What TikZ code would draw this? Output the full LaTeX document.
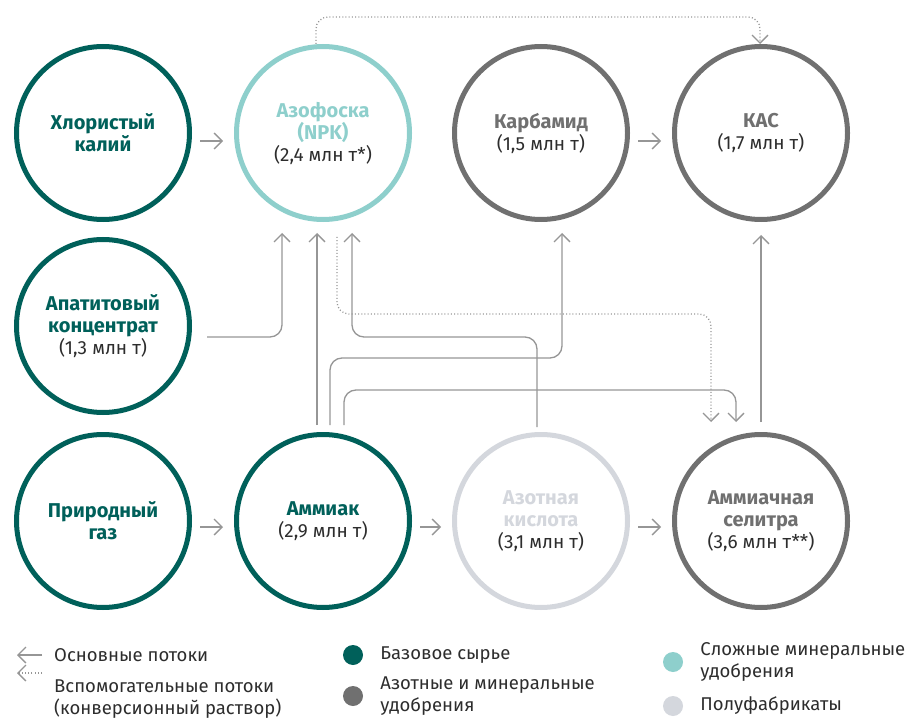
\documentclass[tikz,border=0pt]{standalone}
\usepackage{fontspec}
\setmainfont{Fira Sans}
\usetikzlibrary{arrows.meta, positioning, calc}

\definecolor{basecol}{RGB}{0,96,90}
\definecolor{complexcol}{RGB}{142,207,204}
\definecolor{nitrocol}{RGB}{112,112,112}
\definecolor{semicol}{RGB}{212,215,221}
\definecolor{flowcol}{RGB}{150,150,150}
\definecolor{txtcol}{RGB}{45,45,45}

\newcommand{\ttl}[2]{{\color{#1}\fontsize{20}{22}\selectfont\bfseries #2}}
\newcommand{\amt}[1]{{\color{txtcol}\fontsize{19}{22}\selectfont #1}}

\begin{document}
\begin{tikzpicture}[
    x=1pt, y=-1pt,
    stock/.style={circle, draw, line width=5pt, minimum size=173pt, inner sep=0pt, align=center, font=\fontsize{19}{22}\selectfont},
    flow/.style={draw=flowcol, line width=1.3pt, -{Straight Barb[length=8pt,width=16pt]}},
    aux/.style={flow, dash pattern=on 1pt off 2.2pt},
    link/.style={flow, rounded corners=12pt},
    gap/.style={flow, shorten <=8pt, shorten >=11pt},
    dot/.style={circle, inner sep=0pt, minimum size=20pt},
    legend/.style={anchor=west, align=left, inner sep=0pt, text=txtcol, font=\fontsize{18.5}{22}\selectfont}
    ]
    \useasboundingbox (0,0) rectangle (907,719);

    % Top row
    \node[stock, draw=basecol] (kcl) at (103,133) {\ttl{basecol}{Хлористый}\\\ttl{basecol}{калий}};
    \node[stock, draw=complexcol] (azo) at (323,133) {\ttl{complexcol}{Азофоска}\\\ttl{complexcol}{(NPK)}\\\amt{(2,4 млн т*)}};
    \node[stock, draw=nitrocol] (karb) at (541,133) {\ttl{nitrocol}{Карбамид}\\\amt{(1,5 млн т)}};
    \node[stock, draw=nitrocol] (kas) at (761,133) {\ttl{nitrocol}{КАС}\\\amt{(1,7 млн т)}};

    % Middle row
    \node[stock, draw=basecol] (apat) at (103,326) {\ttl{basecol}{Апатитовый}\\\ttl{basecol}{концентрат}\\\amt{(1,3 млн т)}};

    % Bottom row
    \node[stock, draw=basecol] (gas) at (103,521) {\ttl{basecol}{Природный}\\\ttl{basecol}{газ}};
    \node[stock, draw=basecol] (amm) at (323,521) {\ttl{basecol}{Аммиак}\\\amt{(2,9 млн т)}};
    \node[stock, draw=semicol] (azot) at (541,521) {\ttl{semicol}{Азотная}\\\ttl{semicol}{кислота}\\\amt{(3,1 млн т)}};
    \node[stock, draw=nitrocol] (sel) at (761,521) {\ttl{nitrocol}{Аммиачная}\\\ttl{nitrocol}{селитра}\\\amt{(3,6 млн т**)}};

    % Short flows
    \draw[gap] ([yshift=-8pt]kcl.east) -- ([yshift=-8pt]azo.west);
    \draw[gap] ([yshift=-8pt]karb.east) -- ([yshift=-8pt]kas.west);
    \draw[gap] ([yshift=-6pt]gas.east) -- ([yshift=-6pt]amm.west);
    \draw[gap] ([yshift=-6pt]amm.east) -- ([yshift=-6pt]azot.west);
    \draw[gap] ([yshift=-6pt]azot.east) -- ([yshift=-6pt]sel.west);

    % Long flows
    \draw[link] ([xshift=15pt,yshift=-11pt]apat.east) -| ([xshift=-41pt,yshift=-11pt]azo.south);
    \draw[flow] ([xshift=-6pt,yshift=7pt]amm.north) -- ([xshift=-6pt,yshift=-11pt]azo.south);
    \draw[link] ([xshift=7pt,yshift=7pt]amm.north) |- (562,358) -- ([xshift=21pt,yshift=-11pt]karb.south);
    \draw[link] ([xshift=21pt,yshift=7pt]amm.north) |- (736,390) -- ([xshift=-25pt,yshift=10pt]sel.north);
    \draw[link] ([xshift=-4pt,yshift=5pt]azot.north) |- (352,337) -- ([xshift=29pt,yshift=-11pt]azo.south);
    \draw[flow] ([yshift=10pt]sel.north) -- ([yshift=-13pt]kas.south);

    % Auxiliary flows
    \draw[aux, rounded corners=12pt] ([xshift=14pt,yshift=-15pt]azo.south) |- (711,314) -- ([xshift=-50pt,yshift=10pt]sel.north);
    \draw[aux, rounded corners=12pt] ([xshift=-7pt]azo.north) |- (760,17) -- ([xshift=-1pt]kas.north);

    % Legend
    \coordinate (mainA) at (42,655);
    \coordinate (mainB) at (17,655);
    \coordinate (auxA) at (42,673);
    \coordinate (auxB) at (17,673);
    \draw[flow] (mainA) -- (mainB);
    \draw[aux] (auxA) -- (auxB);
    \node[legend] (lgmain) at (54,655) {Основные потоки};
    \node[legend] (lgaux) at (54,699) {Вспомогательные потоки\\(конверсионный раствор)};

    \node[dot, fill=basecol] (dbase) at (353,655) {};
    \node[legend, right=17pt of dbase] (lgbase) {Базовое сырье};
    \node[dot, fill=nitrocol] (dnitro) at (353,696) {};
    \node[legend, right=17pt of dnitro] (lgnitro) {Азотные и минеральные\\удобрения};
    \node[dot, fill=complexcol] (dcomplex) at (673,662) {};
    \node[legend, right=17pt of dcomplex] (lgcomplex) {Сложные минеральные\\удобрения};
    \node[dot, fill=semicol] (dsemi) at (673,706) {};
    \node[legend, right=17pt of dsemi] (lgsemi) {Полуфабрикаты};
\end{tikzpicture}
\end{document}
